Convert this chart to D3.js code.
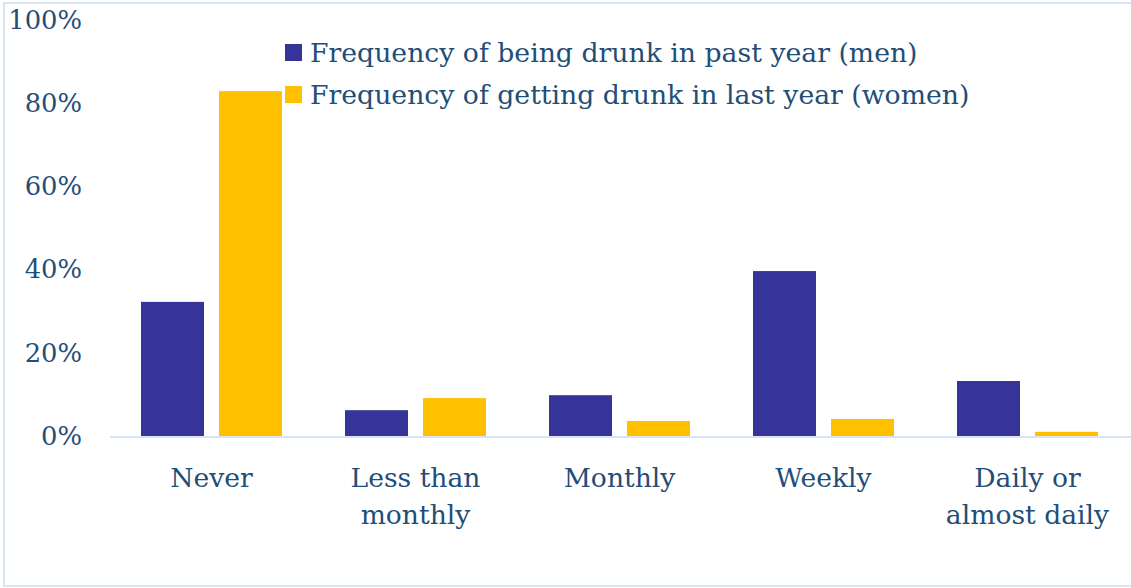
<!DOCTYPE html>
<html>
<head>
<meta charset="utf-8">
<script src="https://cdnjs.cloudflare.com/ajax/libs/d3/7.8.5/d3.min.js"></script>
<style>
  body { margin: 0; background: #fff; }
  text { font-family: "DejaVu Serif", "Liberation Serif", serif; fill: #1f4e79; }
</style>
</head>
<body>
<svg id="chart" width="1131" height="588"></svg>
<script>
// categories and values (fractions)
var categories = ["Never", "Less than\nmonthly", "Monthly", "Weekly", "Daily or\nalmost daily"];
var men = [0.322, 0.062, 0.098, 0.396, 0.132];
var women = [0.828, 0.091, 0.036, 0.041, 0.010];
var seriesNames = ["Frequency of being drunk in past year (men)",
                   "Frequency of getting drunk in last year (women)"];
var colors = ["#373499", "#ffc000"];
var yTicks = [0, 0.2, 0.4, 0.6, 0.8, 1.0];

var svg = d3.select("#chart");

// outer border
svg.append("rect")
    .attr("x", 4).attr("y", 3)
    .attr("width", 1140).attr("height", 583)
    .attr("fill", "none")
    .attr("stroke", "#dae6f4")
    .attr("stroke-width", 2);

var x = d3.scaleBand()
    .domain(categories)
    .range([109.5, 1129.5]);

var y = d3.scaleLinear()
    .domain([0, 1])
    .range([436, 19.5]);

var barW = 63, gap = 15;

// y labels
svg.selectAll(".ylab")
    .data(yTicks)
    .enter().append("text")
    .attr("class", "ylab")
    .attr("x", 82)
    .attr("y", function (d) { return y(d); })
    .attr("dy", "0.35em")
    .attr("text-anchor", "end")
    .attr("font-size", 25.8)
    .text(d3.format(".0%"));

// bars
var data = categories.map(function (c, i) { return [men[i], women[i]]; });
var groups = svg.selectAll(".grp")
    .data(data)
    .enter().append("g")
    .attr("transform", function (d, i) {
        return "translate(" + (x(categories[i]) + x.bandwidth() / 2) + ",0)";
    });

groups.selectAll("rect")
    .data(function (d) { return d; })
    .enter().append("rect")
    .attr("x", function (d, j) { return j === 0 ? -barW - gap / 2 : gap / 2; })
    .attr("y", function (d) { return y(d); })
    .attr("width", barW)
    .attr("height", function (d) { return y(0) - y(d); })
    .attr("fill", function (d, j) { return colors[j]; });

// x axis line
svg.append("line")
    .attr("x1", 110).attr("x2", 1131)
    .attr("y1", y(0) + 1).attr("y2", y(0) + 1)
    .attr("stroke", "#d6e4f4")
    .attr("stroke-width", 2);

// category labels
categories.forEach(function (c) {
    var lines = c.split("\n");
    var t = svg.append("text")
        .attr("x", x(c) + x.bandwidth() / 2)
        .attr("y", 487)
        .attr("text-anchor", "middle")
        .attr("font-size", 26.6);
    lines.forEach(function (l, k) {
        t.append("tspan")
            .attr("x", x(c) + x.bandwidth() / 2)
            .attr("dy", k === 0 ? 0 : 37)
            .text(l);
    });
});

// legend
seriesNames.forEach(function (s, i) {
    var ly = 52.5 + i * 42;
    svg.append("rect")
        .attr("x", 285).attr("y", ly - 8.5)
        .attr("width", 17).attr("height", 17)
        .attr("fill", colors[i]);
    svg.append("text")
        .attr("x", 310).attr("y", ly)
        .attr("dy", "0.35em")
        .attr("font-size", 26.7)
        .text(s);
});
</script>
</body>
</html>
